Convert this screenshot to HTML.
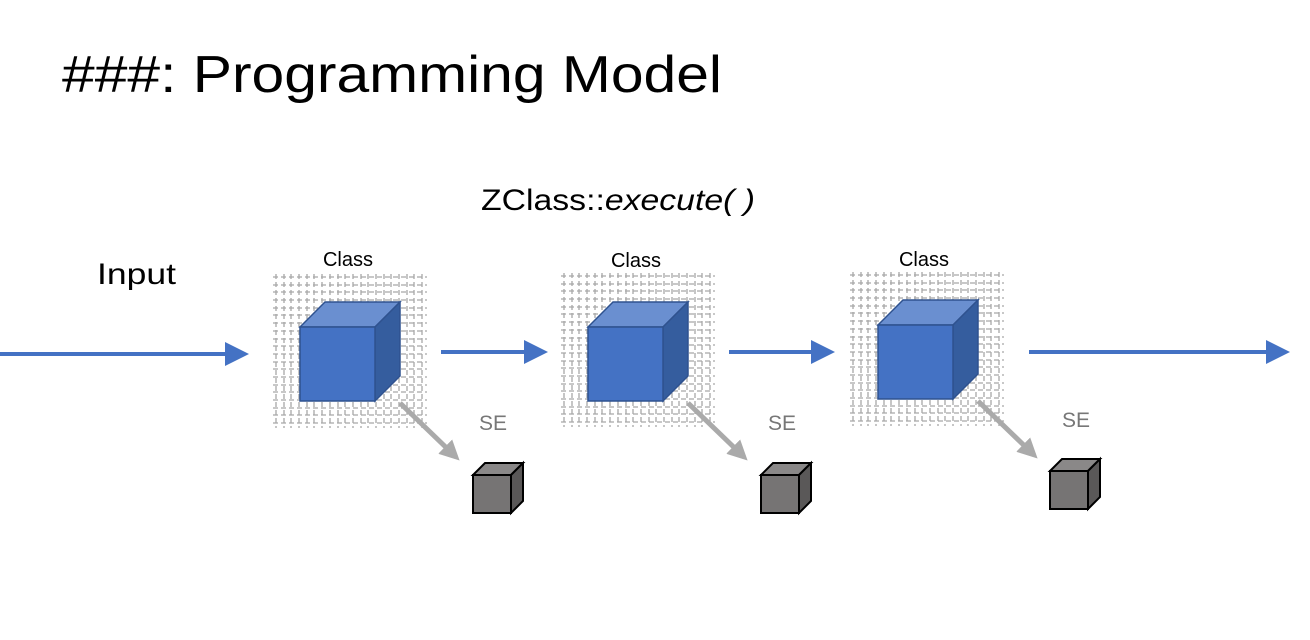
<!DOCTYPE html>
<html><head><meta charset="utf-8"><style>
html,body{margin:0;padding:0;background:#fff;}
svg{display:block;}
text{font-family:"Liberation Sans",sans-serif;}
</style></head><body>
<svg width="1310" height="640" viewBox="0 0 1310 640" xmlns="http://www.w3.org/2000/svg">
<defs>
<g id="grid" stroke="#a8a8a8" stroke-width="1.3" stroke-dasharray="5 3" fill="none">
<path d="M3,0V154 M11,0V154 M18,0V154 M26,0V154 M34,0V154 M41,0V154 M49,0V154 M57,0V154 M65,0V154 M72,0V154 M80,0V154 M88,0V154 M95,0V154 M103,0V154 M111,0V154 M118,0V154 M126,0V154 M134,0V154 M141,0V154 M149,0V154"/>
<path d="M0,3H154 M0,11H154 M0,18H154 M0,26H154 M0,34H154 M0,41H154 M0,49H154 M0,57H154 M0,65H154 M0,72H154 M0,80H154 M0,88H154 M0,95H154 M0,103H154 M0,111H154 M0,118H154 M0,126H154 M0,134H154 M0,141H154 M0,149H154"/>
</g>
<marker id="ab" markerWidth="6" markerHeight="6" refX="5" refY="3" orient="auto" markerUnits="strokeWidth"><path d="M0,0 L6,3 L0,6 z" fill="#4472c4"/></marker>
<marker id="ag" markerWidth="4" markerHeight="4" refX="3" refY="2" orient="auto" markerUnits="strokeWidth"><path d="M0,0 L4,2 L0,4 z" fill="#aaaaaa"/></marker>
<g id="cube">
<polygon points="0,25 25,0 100,0 75,25" fill="#6a8fd0" stroke="#2f528f" stroke-width="1.5"/>
<polygon points="75,25 100,0 100,74 75,99" fill="#355d9e" stroke="#2f528f" stroke-width="1.5"/>
<rect x="0" y="25" width="75" height="74" fill="#4472c4" stroke="#2f528f" stroke-width="1.5"/>
</g>
<g id="sc">
<polygon points="0,12 12,0 50,0 38,12" fill="#8a8888" stroke="#000" stroke-width="2"/>
<polygon points="38,12 50,0 50,38 38,50" fill="#5a5858" stroke="#000" stroke-width="2"/>
<rect x="0" y="12" width="38" height="38" fill="#767474" stroke="#000" stroke-width="2"/>
</g>
</defs>
<text x="62" y="92" font-size="52" textLength="660" lengthAdjust="spacingAndGlyphs">###: Programming Model</text>
<text x="481" y="210" font-size="30" textLength="274" lengthAdjust="spacingAndGlyphs">ZClass::<tspan font-style="italic">execute( )</tspan></text>
<text x="97" y="284" font-size="30" textLength="79" lengthAdjust="spacingAndGlyphs">Input</text>

<use href="#grid" x="273" y="274"/>
<use href="#grid" x="561" y="273"/>
<use href="#grid" x="850" y="272"/>

<text x="348" y="266" font-size="20" text-anchor="middle">Class</text>
<text x="636" y="267" font-size="20" text-anchor="middle">Class</text>
<text x="924" y="266" font-size="20" text-anchor="middle">Class</text>

<use href="#cube" x="300" y="302"/>
<use href="#cube" x="588" y="302"/>
<use href="#cube" x="878" y="300"/>

<g stroke="#4472c4" stroke-width="4" marker-end="url(#ab)">
<line x1="0" y1="354" x2="245" y2="354"/>
<line x1="441" y1="352" x2="544" y2="352"/>
<line x1="729" y1="352" x2="831" y2="352"/>
<line x1="1029" y1="352" x2="1286" y2="352"/>
</g>

<g stroke="#aaaaaa" stroke-width="5" marker-end="url(#ag)">
<line x1="400" y1="403" x2="456" y2="457"/>
<line x1="688" y1="403" x2="744" y2="457"/>
<line x1="978" y1="401" x2="1034" y2="455"/>
</g>

<text x="493" y="430" font-size="21" fill="#777" text-anchor="middle">SE</text>
<text x="782" y="430" font-size="21" fill="#777" text-anchor="middle">SE</text>
<text x="1076" y="427" font-size="21" fill="#777" text-anchor="middle">SE</text>

<use href="#sc" x="473" y="463"/>
<use href="#sc" x="761" y="463"/>
<use href="#sc" x="1050" y="459"/>
</svg>
</body></html>
